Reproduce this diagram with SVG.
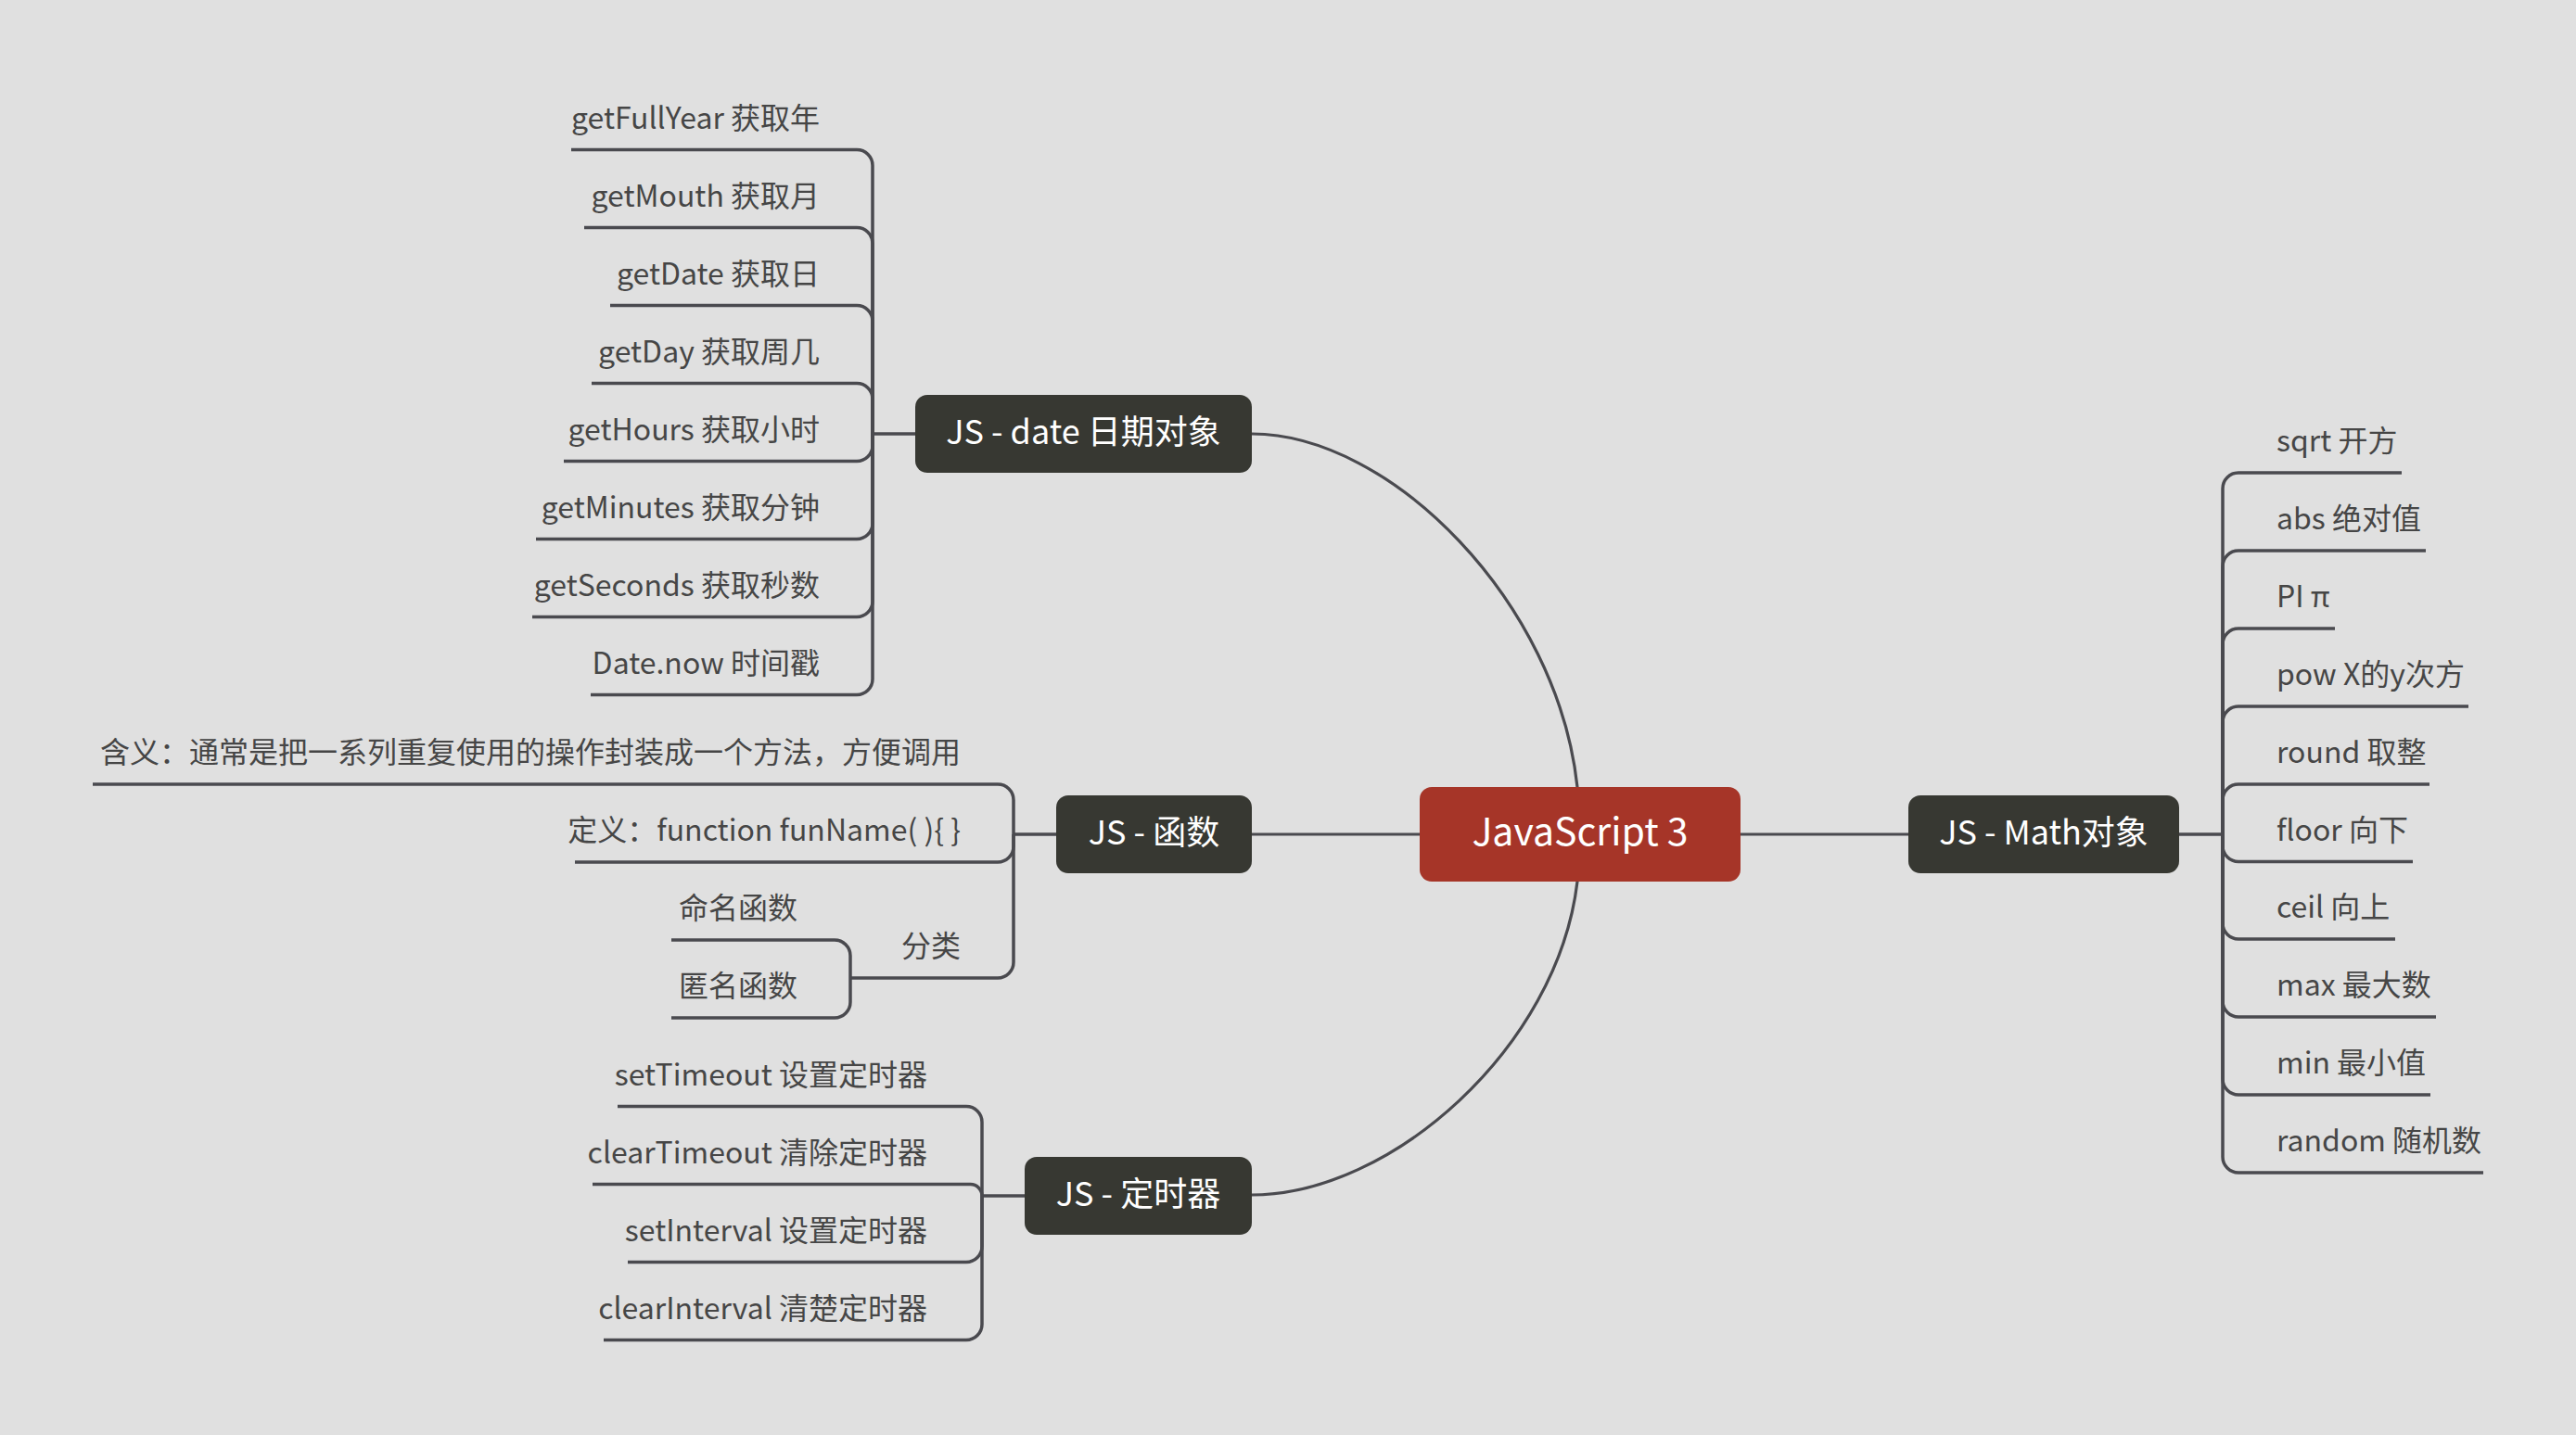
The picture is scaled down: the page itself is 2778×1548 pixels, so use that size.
<svg xmlns="http://www.w3.org/2000/svg" width="2778" height="1548" viewBox="0 0 2778 1548">
<style>
.bg{fill:#E0E0E0}
.main{fill:#373832}
.root{fill:#A63528}
.mt{font-family:"Noto Sans CJK SC","Noto Sans",sans-serif;font-size:36px;fill:#FFFFFF;text-anchor:middle}
.rt{font-family:"Noto Sans CJK SC","Noto Sans",sans-serif;font-size:41px;fill:#FFFFFF;text-anchor:middle}
.lt{font-family:"Noto Sans CJK SC","Noto Sans",sans-serif;font-size:32px;fill:#464646}
.r{text-anchor:end}
.c{fill:none;stroke:#4A4A4F;stroke-width:3.5}
.m{fill:none;stroke:#4A4A4F;stroke-width:3.2}
</style>
<rect class="bg" x="0" y="0" width="2778" height="1548"/>
<g id="connectors">
  <path class="m" d="M1350,900 H1531"/>
  <path class="m" d="M1877,900 H2058"/>
  <path class="m" d="M1350,468 C1500,468 1680,650 1701,849 V860"/>
  <path class="m" d="M1350,1289 C1500,1289 1680,1130 1701,951 V940"/>
  <!-- date -->
  <path class="c" d="M941,468 H987"/>
  <path class="c" d="M616,161.5 H924 A17,17 0 0 1 941,178.5 V468"/>
  <path class="c" d="M630,245.5 H924 A17,17 0 0 1 941,262.5 V468"/>
  <path class="c" d="M658,329.5 H924 A17,17 0 0 1 941,346.5 V468"/>
  <path class="c" d="M638,413.5 H924 A17,17 0 0 1 941,430.5 V468"/>
  <path class="c" d="M608,497.5 H924 A17,17 0 0 0 941,480.5 V468"/>
  <path class="c" d="M578,581.5 H924 A17,17 0 0 0 941,564.5 V468"/>
  <path class="c" d="M574,665.5 H924 A17,17 0 0 0 941,648.5 V468"/>
  <path class="c" d="M637,749.5 H924 A17,17 0 0 0 941,732.5 V468"/>
  <!-- function -->
  <path class="c" d="M1093,900 H1139"/>
  <path class="c" d="M100,846 H1076 A17,17 0 0 1 1093,863 V900"/>
  <path class="c" d="M620,930 H1076 A17,17 0 0 0 1093,913 V900"/>
  <path class="c" d="M917,1055 H1076 A17,17 0 0 0 1093,1038 V900"/>
  <path class="c" d="M724,1014 H900 A17,17 0 0 1 917,1031 V1055"/>
  <path class="c" d="M724,1098 H900 A17,17 0 0 0 917,1081 V1055"/>
  <!-- timer -->
  <path class="c" d="M1059,1290 H1105"/>
  <path class="c" d="M666,1193.5 H1042 A17,17 0 0 1 1059,1210.5 V1290"/>
  <path class="c" d="M639,1277.5 H1046.5 A12.5,12.5 0 0 1 1059,1290"/>
  <path class="c" d="M677,1361.5 H1042 A17,17 0 0 0 1059,1344.5 V1290"/>
  <path class="c" d="M651,1445.5 H1042 A17,17 0 0 0 1059,1428.5 V1290"/>
  <!-- math -->
  <path class="c" d="M2350,900 H2397"/>
  <path class="c" d="M2590,510 H2414 A17,17 0 0 0 2397,527 V900"/>
  <path class="c" d="M2616,594 H2414 A17,17 0 0 0 2397,611 V900"/>
  <path class="c" d="M2518,678 H2414 A17,17 0 0 0 2397,695 V900"/>
  <path class="c" d="M2662,762 H2414 A17,17 0 0 0 2397,779 V900"/>
  <path class="c" d="M2620,846 H2414 A17,17 0 0 0 2397,863 V900"/>
  <path class="c" d="M2602,929.5 H2414 A17,17 0 0 1 2397,912.5 V900"/>
  <path class="c" d="M2583,1013 H2414 A17,17 0 0 1 2397,996 V900"/>
  <path class="c" d="M2627,1097 H2414 A17,17 0 0 1 2397,1080 V900"/>
  <path class="c" d="M2621,1181 H2414 A17,17 0 0 1 2397,1164 V900"/>
  <path class="c" d="M2678,1265 H2414 A17,17 0 0 1 2397,1248 V900"/>
</g>
<g id="root">
  <rect class="root" x="1531" y="849" width="346" height="102" rx="13"/>
  <text class="rt" x="1704" y="912">JavaScript 3</text>
</g>
<g id="date">
  <rect class="main" x="987" y="426" width="363" height="84" rx="13"/>
  <text class="mt" x="1168.5" y="479">JS - date 日期对象</text>
</g>
<g id="func">
  <rect class="main" x="1139" y="858" width="211" height="84" rx="13"/>
  <text class="mt" x="1244.5" y="911">JS - 函数</text>
</g>
<g id="timer">
  <rect class="main" x="1105" y="1248" width="245" height="84" rx="13"/>
  <text class="mt" x="1227.5" y="1301">JS - 定时器</text>
</g>
<g id="math">
  <rect class="main" x="2058" y="858" width="292" height="84" rx="13"/>
  <text class="mt" x="2204" y="911">JS - Math对象</text>
</g>
<g id="date-items">
  <g id="d1"><text class="lt r" x="884" y="138.5">getFullYear 获取年</text></g>
  <g id="d2"><text class="lt r" x="884" y="222.5">getMouth 获取月</text></g>
  <g id="d3"><text class="lt r" x="884" y="306.5">getDate 获取日</text></g>
  <g id="d4"><text class="lt r" x="884" y="390.5">getDay 获取周几</text></g>
  <g id="d5"><text class="lt r" x="884" y="474.5">getHours 获取小时</text></g>
  <g id="d6"><text class="lt r" x="884" y="558.5">getMinutes 获取分钟</text></g>
  <g id="d7"><text class="lt r" x="884" y="642.5">getSeconds 获取秒数</text></g>
  <g id="d8"><text class="lt r" x="884" y="726.5">Date.now 时间戳</text></g>
</g>
<g id="func-items">
  <g id="f1"><text class="lt r" x="1036" y="823">含义：通常是把一系列重复使用的操作封装成一个方法，方便调用</text></g>
  <g id="f2"><text class="lt r" x="1036" y="907">定义：function funName( ){ }</text></g>
  <g id="f3"><text class="lt r" x="1036" y="1032">分类</text></g>
  <g id="f3a"><text class="lt r" x="860" y="991">命名函数</text></g>
  <g id="f3b"><text class="lt r" x="860" y="1075">匿名函数</text></g>
</g>
<g id="timer-items">
  <g id="t1"><text class="lt r" x="1000" y="1170.5">setTimeout 设置定时器</text></g>
  <g id="t2"><text class="lt r" x="1000" y="1254.5">clearTimeout 清除定时器</text></g>
  <g id="t3"><text class="lt r" x="1000" y="1338.5">setInterval 设置定时器</text></g>
  <g id="t4"><text class="lt r" x="1000" y="1422.5">clearInterval 清楚定时器</text></g>
</g>
<g id="math-items">
  <g id="m1"><text class="lt" x="2455" y="487">sqrt 开方</text></g>
  <g id="m2"><text class="lt" x="2455" y="571">abs 绝对值</text></g>
  <g id="m3"><text class="lt" x="2455" y="655">PI π</text></g>
  <g id="m4"><text class="lt" x="2455" y="739">pow X的y次方</text></g>
  <g id="m5"><text class="lt" x="2455" y="823">round 取整</text></g>
  <g id="m6"><text class="lt" x="2455" y="906.5">floor 向下</text></g>
  <g id="m7"><text class="lt" x="2455" y="990">ceil 向上</text></g>
  <g id="m8"><text class="lt" x="2455" y="1074">max 最大数</text></g>
  <g id="m9"><text class="lt" x="2455" y="1158">min 最小值</text></g>
  <g id="m10"><text class="lt" x="2455" y="1242">random 随机数</text></g>
</g>
</svg>
